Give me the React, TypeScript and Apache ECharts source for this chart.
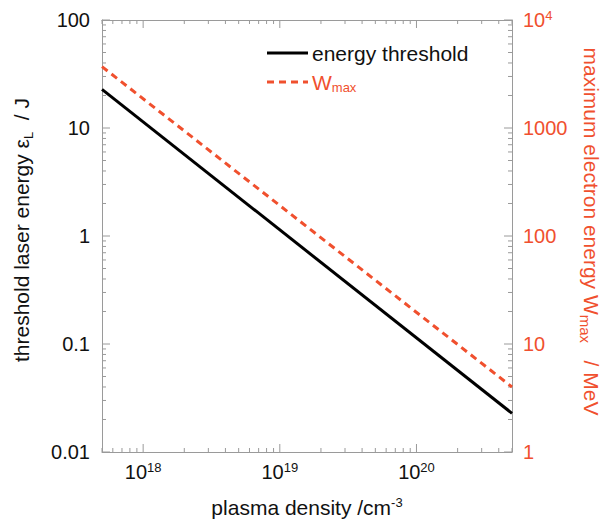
import React, { useEffect, useRef } from "react";
import * as echarts from "echarts";

// ---- data ----
const plasmaDensity = [5e17, 5e20]; // cm^-3
const thresholdEnergy = [22.8, 0.0228]; // J
const maxElectronEnergy = [3700, 4.0]; // MeV

const xMajorTicks = [1e18, 1e19, 1e20];
const leftMajorTicks = [0.01, 0.1, 1, 10, 100];
const rightMajorTicks = [1, 10, 100, 1000, 10000];

const X_MIN = 5e17;
const X_MAX = 5e20;
const L_MIN = 0.01;
const L_MAX = 100;

function minorTicks(lo: number, hi: number): number[] {
  const out: number[] = [];
  let dec = Math.pow(10, Math.floor(Math.log10(lo) + 1e-9));
  while (dec < hi * 1.0001) {
    for (let m = 2; m <= 9; m++) {
      const v = m * dec;
      if (v >= lo * 0.9999 && v <= hi * 1.0001) out.push(v);
    }
    dec *= 10;
  }
  return out;
}

const RED = "#f0502e";
const GRAY = "#9a9a9a";
const FONT = "'Liberation Sans', Arial, Helvetica, sans-serif";
const MAJOR_LEN = 8;
const MINOR_LEN = 4;

export default function App() {
  const ref = useRef<HTMLDivElement>(null);
  useEffect(() => {
    const chart = echarts.init(ref.current!, null, { renderer: "svg" });

    const supRich = (color: string) => ({
      b: { fontSize: 20, color, fontFamily: FONT },
      s: { fontSize: 13, color, fontFamily: FONT, verticalAlign: "bottom", padding: [0, 0, 9, 0] },
    });

    const xTickData = [
      ...xMajorTicks.map((v) => [v, MAJOR_LEN]),
      ...minorTicks(X_MIN, X_MAX).map((v) => [v, MINOR_LEN]),
    ];
    const yTickData = [
      ...leftMajorTicks.map((v) => [MAJOR_LEN, v]),
      ...minorTicks(L_MIN, L_MAX).map((v) => [MINOR_LEN, v]),
    ];

    const tickStyle = { stroke: GRAY, lineWidth: 1 };

    const plainAxis = {
      axisLine: { show: true, onZero: false, lineStyle: { color: GRAY, width: 1 } },
      axisTick: { show: false },
      splitLine: { show: false },
      minorTick: { show: false },
    };

    const option: any = {
      animation: false,
      backgroundColor: "#fff",
      grid: { left: 102, right: 92, top: 20, bottom: 68, containLabel: false, outerBoundsMode: "none" },
      xAxis: [
        {
          type: "log",
          logBase: 10,
          min: X_MIN,
          max: X_MAX,
          position: "bottom",
          ...plainAxis,
          axisLabel: {
            show: true,
            customValues: xMajorTicks,
            margin: 9,
            formatter: (v: number) => `{b|10}{s|${Math.round(Math.log10(v))}}`,
            rich: supRich("#111"),
          },
          name: "plasma density /cm{s|-3}",
          nameLocation: "middle",
          nameGap: 44,
          nameTextStyle: {
            fontSize: 21,
            color: "#111",
            fontFamily: FONT,
            rich: {
              s: { fontSize: 13, color: "#111", fontFamily: FONT, verticalAlign: "bottom", padding: [0, 0, 10, 0] },
            },
          },
        },
        {
          type: "log",
          logBase: 10,
          min: X_MIN,
          max: X_MAX,
          position: "top",
          ...plainAxis,
          axisLabel: { show: false },
        },
      ],
      yAxis: [
        {
          type: "log",
          logBase: 10,
          min: L_MIN,
          max: L_MAX,
          position: "left",
          ...plainAxis,
          axisLabel: {
            show: true,
            customValues: leftMajorTicks,
            margin: 12,
            fontSize: 20,
            color: "#111",
            fontFamily: FONT,
            formatter: (v: number) => String(v),
          },
          name: "threshold laser energy ε{s|L}  / J",
          nameLocation: "middle",
          nameGap: 70,
          nameRotate: 90,
          nameTextStyle: {
            fontSize: 21,
            lineHeight: 22,
            color: "#111",
            fontFamily: FONT,
            padding: [0, 0, 0, 12],
            rich: {
              s: { fontSize: 13, color: "#111", fontFamily: FONT, verticalAlign: "top", padding: [12, 0, 0, 0] },
            },
          },
        },
        {
          type: "log",
          logBase: 10,
          min: 1,
          max: 10000,
          position: "right",
          ...plainAxis,
          axisLabel: {
            show: true,
            customValues: rightMajorTicks,
            margin: 11,
            formatter: (v: number) => (v >= 10000 ? `{b|10}{s|${Math.round(Math.log10(v))}}` : `{b|${v}}`),
            rich: supRich(RED),
          },
          name: "maximum electron energy W{s|max}   / MeV",
          nameLocation: "middle",
          nameGap: 68,
          nameRotate: -90,
          nameTextStyle: {
            fontSize: 21,
            lineHeight: 22,
            color: RED,
            fontFamily: FONT,
            padding: [0, 9, 0, 0],
            rich: {
              s: { fontSize: 15, color: RED, fontFamily: FONT, verticalAlign: "top", padding: [9, 0, 0, 0] },
            },
          },
        },
      ],
      graphic: [
        { type: "line", shape: { x1: 267, y1: 53, x2: 308, y2: 53 }, style: { stroke: "#000", lineWidth: 3 } },
        {
          type: "text",
          x: 312,
          y: 53,
          style: { text: "energy threshold", fontSize: 21, fill: "#111", fontFamily: FONT, verticalAlign: "middle" },
        },
        {
          type: "line",
          shape: { x1: 267, y1: 82, x2: 308, y2: 82 },
          style: { stroke: RED, lineWidth: 3, lineDash: [7, 5] },
        },
        {
          type: "text",
          x: 312,
          y: 82,
          style: {
            text: "{w|W}{s|max}",
            verticalAlign: "middle",
            rich: {
              w: { fontSize: 21, fill: RED, fontFamily: FONT },
              s: { fontSize: 13, fill: RED, fontFamily: FONT, verticalAlign: "top", padding: [10, 0, 0, 0] },
            },
          },
        },
      ],
      series: [
        {
          name: "energy threshold",
          type: "line",
          xAxisIndex: 0,
          yAxisIndex: 0,
          symbol: "none",
          data: plasmaDensity.map((x, i) => [x, thresholdEnergy[i]]),
          lineStyle: { color: "#000", width: 3 },
          itemStyle: { color: "#000" },
        },
        {
          name: "Wmax",
          type: "line",
          xAxisIndex: 0,
          yAxisIndex: 1,
          symbol: "none",
          data: plasmaDensity.map((x, i) => [x, maxElectronEnergy[i]]),
          lineStyle: { color: RED, width: 3, type: [7, 5] },
          itemStyle: { color: RED },
        },
        {
          name: "xTicks",
          type: "custom",
          xAxisIndex: 0,
          yAxisIndex: 0,
          clip: false,
          silent: true,
          encode: { x: 0 },
          data: xTickData,
          renderItem: (params: any, api: any) => {
            const v = api.value(0);
            const len = api.value(1);
            const b = api.coord([v, L_MIN]);
            const t = api.coord([v, L_MAX]);
            return {
              type: "group",
              children: [
                { type: "line", shape: { x1: b[0], y1: b[1], x2: b[0], y2: b[1] - len }, style: tickStyle },
                { type: "line", shape: { x1: t[0], y1: t[1], x2: t[0], y2: t[1] + len }, style: tickStyle },
              ],
            };
          },
        },
        {
          name: "yTicks",
          type: "custom",
          xAxisIndex: 0,
          yAxisIndex: 0,
          clip: false,
          silent: true,
          encode: { y: 1 },
          data: yTickData,
          renderItem: (params: any, api: any) => {
            const len = api.value(0);
            const v = api.value(1);
            const l = api.coord([X_MIN, v]);
            const r = api.coord([X_MAX, v]);
            return {
              type: "group",
              children: [
                { type: "line", shape: { x1: l[0], y1: l[1], x2: l[0] + len, y2: l[1] }, style: tickStyle },
                { type: "line", shape: { x1: r[0], y1: r[1], x2: r[0] - len, y2: r[1] }, style: tickStyle },
              ],
            };
          },
        },
      ],
    };

    chart.setOption(option);
    return () => chart.dispose();
  }, []);
  return (
    <div
      ref={ref}
      style={{ position: "fixed", left: 0, top: 0, width: 604, height: 520, background: "#fff" }}
    />
  );
}
